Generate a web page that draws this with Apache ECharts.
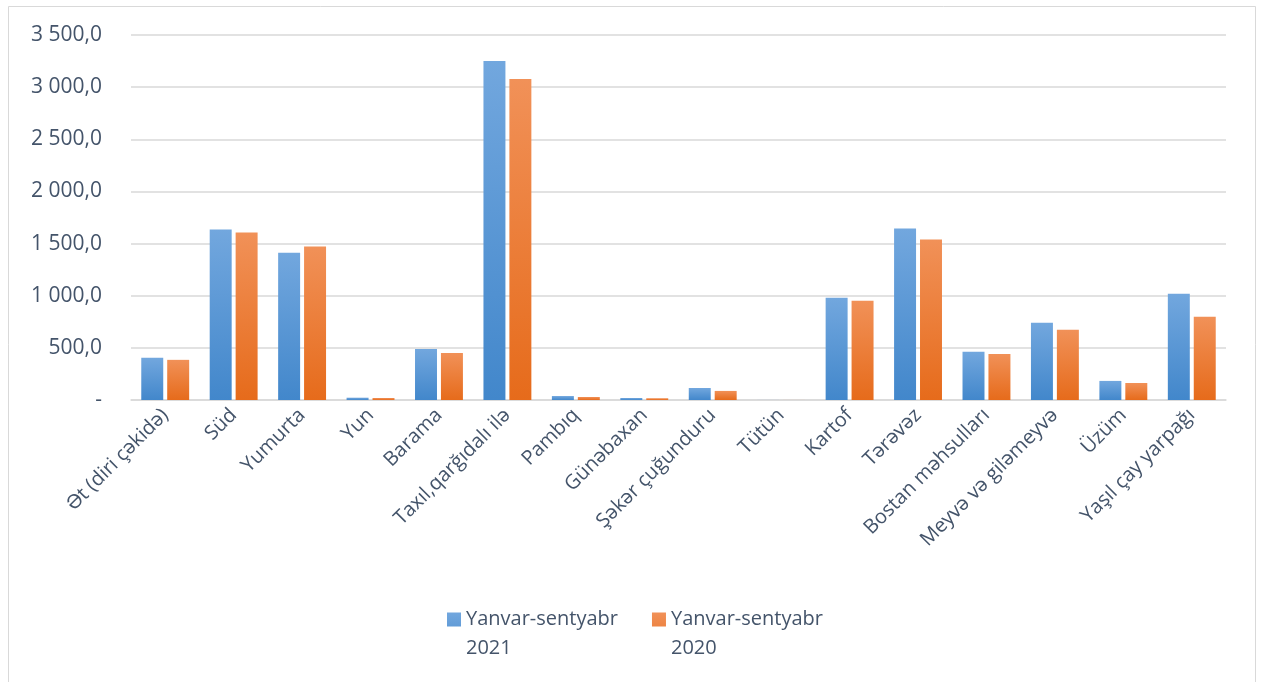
<!DOCTYPE html>
<html>
<head>
<meta charset="utf-8">
<script src="https://cdn.jsdelivr.net/npm/echarts@6/dist/echarts.min.js"></script>
<style>
html,body{margin:0;padding:0;background:#fff;}
#chart{width:1261px;height:682px;}
</style>
</head>
<body>
<div id="chart"></div>
<script>
const categories = ["Ət (diri çəkidə)", "Süd", "Yumurta", "Yun", "Barama", "Taxıl,qarğıdalı ilə", "Pambıq", "Günəbaxan", "Şəkər çuğunduru", "Tütün", "Kartof", "Tərəvəz", "Bostan məhsulları", "Meyvə və giləmeyvə", "Üzüm", "Yaşıl çay yarpağı"];
const seriesNames = ["Yanvar-sentyabr\n2021", "Yanvar-sentyabr\n2020"];
const values2021 = [404, 1635, 1413, 22, 490, 3250, 38, 19, 115, 0.5, 980, 1644, 462, 740, 183, 1019];
const values2020 = [385, 1606, 1471, 19, 450, 3077, 29, 17, 87, 0.4, 952, 1538, 442, 673, 163, 798];
const yTicks = [0, 500, 1000, 1500, 2000, 2500, 3000, 3500];

const textColor = '#44546a';
const font = '"Open Sans", sans-serif';

function fmt(v) {
  if (v === 0) return '-';
  const s = v.toFixed(1).replace('.', ',');
  const parts = s.split(',');
  const int = parts[0].replace(/\B(?=(\d{3})+(?!\d))/g, ' ');
  return int + ',' + parts[1];
}

function grad(top, bottom) {
  return new echarts.graphic.LinearGradient(0, 0, 0, 1, [
    {offset: 0, color: top}, {offset: 1, color: bottom}
  ]);
}

const chart = echarts.init(document.getElementById('chart'), null, {renderer: 'canvas'});
chart.setOption({
  animation: false,
  backgroundColor: '#ffffff',
  graphic: [{
    type: 'rect',
    shape: {x: 8.5, y: 6.5, width: 1247, height: 690},
    style: {fill: 'none', stroke: '#d9d9d9', lineWidth: 1},
    silent: true, z: -1
  }],
  grid: {left: 131, right: 35, top: 35, bottom: 282, containLabel: false},
  legend: {
    left: 442, top: 600,
    itemWidth: 14, itemHeight: 43, itemGap: 34,
    icon: 'path://M0,0L14,0L14,14L0,14ZM0,43L0.01,43Z',
    textStyle: {color: textColor, fontFamily: font, fontSize: 20, lineHeight: 29},
    data: seriesNames
  },
  xAxis: {
    type: 'category',
    data: categories,
    axisTick: {show: false},
    axisLine: {lineStyle: {color: '#d9d9d9', width: 1.5}},
    axisLabel: {interval: 0, rotate: 45, color: textColor, fontFamily: font, fontSize: 20, margin: 12}
  },
  yAxis: {
    type: 'value',
    min: yTicks[0], max: yTicks[yTicks.length - 1], interval: 500,
    axisLine: {show: false}, axisTick: {show: false},
    splitLine: {lineStyle: {color: '#d9d9d9', width: 1.5}},
    axisLabel: {color: textColor, fontFamily: font, fontSize: 21, margin: 29, formatter: fmt}
  },
  series: [{
    name: seriesNames[0], type: 'bar', data: values2021,
    barCategoryGap: '30%', barGap: '18%',
    itemStyle: {color: grad('#72a7de', '#4287cb')}
  }, {
    name: seriesNames[1], type: 'bar', data: values2020,
    itemStyle: {color: grad('#f19158', '#e66b1b')}
  }]
});
</script>
</body>
</html>
